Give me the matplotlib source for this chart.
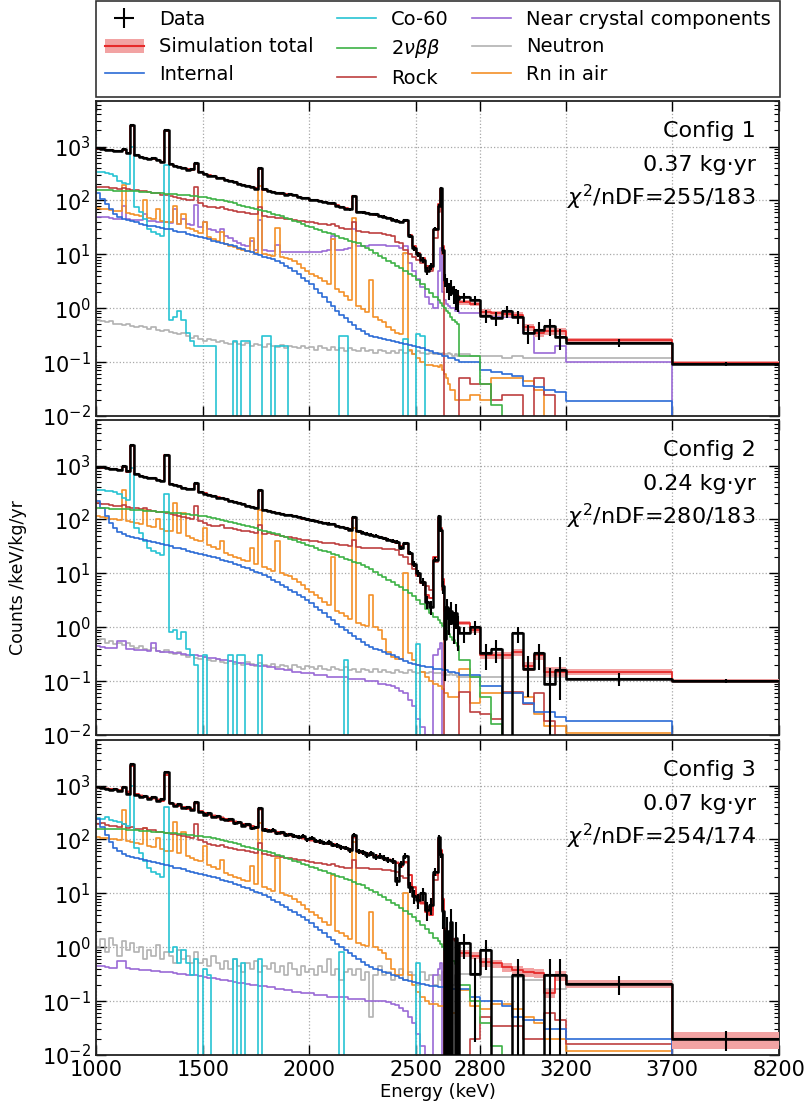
import numpy as np
import matplotlib
matplotlib.use("Agg")
import matplotlib.pyplot as plt
from matplotlib.patches import Patch
from matplotlib.lines import Line2D

# ---------------- binning (keV) ----------------
bin_edges = np.concatenate([np.arange(1000, 2600, 20), np.arange(2600, 2700, 10),
                            np.arange(2700, 3200, 50), [3200, 3700, 8200]]).astype(float)
x_ticks = [1000, 1500, 2000, 2500, 2800, 3200, 3700, 8200]
exposures = [0.37, 0.24, 0.07]
config_names = ["Config 1", "Config 2", "Config 3"]
exposure_labels = ["0.37 kg\u00b7yr", "0.24 kg\u00b7yr", "0.07 kg\u00b7yr"]
chi2_labels = [r"$\chi^2$/nDF=255/183", r"$\chi^2$/nDF=280/183", r"$\chi^2$/nDF=254/174"]

# ---------------- Config 1 ----------------
p1_data = [920, 900, 880, 860, 840, 820, 900, 760, 2500, 700,
           640, 620, 580, 600, 560, 520, 2000, 470, 440, 410,
           400, 370, 380, 490, 330, 310, 290, 280, 260, 260,
           240, 230, 220, 205, 195, 185, 175, 165, 400, 160,
           150, 145, 140, 135, 128, 130, 125, 118, 112, 110,
           104, 100, 96, 92, 90, 88, 80, 75, 70, 68,
           123, 62, 60, 58, 56, 55, 52, 50, 47, 44,
           42, 40, 43, 22, 13, 10, 8, 5, 6, 30,
           80, 170, 12, 3.4, 2.8, 2.2, 2.5, 1.9, 1.6, 1.5,
           1.6, 1.4, 0.72, 0.65, 0.87, 0.7, 0.35, 0.4, 0.46, 0.29,
           0.23, 0.094]
p1_total = [900, 890, 875, 860, 840, 825, 880, 770, 2400, 690,
            650, 625, 590, 590, 560, 525, 1950, 470, 440, 415,
            395, 375, 370, 480, 335, 310, 295, 280, 265, 262,
            242, 230, 218, 206, 196, 186, 178, 168, 390, 158,
            150, 145, 140, 134, 130, 128, 124, 118, 113, 109,
            104, 100, 96, 93, 90, 87, 81, 76, 71, 68,
            120, 62, 60, 58, 56, 54, 52, 50, 47, 44,
            42, 39, 42, 23, 14, 10.5, 8.5, 6, 5.5, 28,
            85, 165, 14, 3.0, 2.6, 2.3, 2.2, 2.0, 1.8, 1.7,
            1.3, 1.2, 0.85, 0.8, 0.78, 0.75, 0.45, 0.35, 0.37, 0.37,
            0.26, 0.097]
p1_total_relerr_low = 0.03
p1_total_relerr_high = [0.1, 0.1, 0.12, 0.12, 0.12, 0.12, 0.15, 0.15, 0.15, 0.15, 0.1, 0.06]
p1_internal = [135, 105, 85, 68, 57, 50, 46, 43, 41, 39,
               37, 35.5, 34, 33, 32, 31, 30, 29, 27.5, 26.5,
               25.5, 24, 23, 22, 21, 20, 19, 18, 17, 16.5,
               15.5, 14.8, 14, 13.2, 12.4, 11.7, 11, 10.3, 9.7, 9.1,
               8.6, 8.1, 7.5, 6.8, 6.1, 5.5, 4.9, 4.3, 3.7, 3.2,
               2.8, 2.3, 1.9, 1.6, 1.3, 1.08, 0.9, 0.76, 0.65, 0.56,
               0.48, 0.42, 0.37, 0.33, 0.31, 0.29, 0.28, 0.27, 0.26, 0.25,
               0.24, 0.23, 0.22, 0.21, 0.2, 0.19, 0.18, 0.17, 0.16, 0.15,
               0.14, 0.14, 0.13, 0.13, 0.13, 0.12, 0.12, 0.12, 0.11, 0.11,
               0.1, 0.1, 0.07, 0.065, 0.06, 0.055, 0.036, 0.034, 0.03, 0.028,
               0.019, 0]
p1_co60 = [340, 335, 320, 310, 290, 230, 210, 200, 1000, 75,
           62, 45, 30, 26, 24, 22, 460, 0.6, 0.7, 0.9,
           0.6, 0.35, 0.25, 0.2, 0.2, 0.2, 0.2, 0.2, 0, 0,
           0, 0, 0.25, 0, 0.25, 0.25, 0, 0, 0, 0.3,
           0.3, 0, 0.2, 0.2, 0.2, 0, 0, 0, 0, 0,
           0, 0, 0, 0, 0, 0, 0, 0.3, 0.3, 0,
           0, 0, 0, 0, 0, 0, 0, 0, 0, 0,
           0, 0, 0.27, 0, 0, 0.33, 0.3, 0, 0, 0,
           0, 0, 0, 0, 0, 0, 0, 0, 0, 0,
           0, 0, 0, 0, 0, 0, 0, 0, 0, 0,
           0, 0]
p1_2vbb = [155, 155, 154, 153, 152, 151, 150, 149, 148, 147,
           145, 144, 142, 140, 138, 136, 134, 132, 130, 128,
           126, 124, 122, 120, 118, 115, 112, 108, 104, 100,
           96, 92, 88, 84, 80, 76, 72, 69, 66, 63,
           60, 57, 54, 51, 48, 45, 42, 39, 37, 34,
           32, 30, 28, 26.5, 25, 23.5, 22, 20.5, 19, 18,
           17, 16, 14.5, 13, 12, 10.5, 9.5, 8.5, 7.5, 6.8,
           6.2, 5.6, 5.0, 4.4, 3.9, 3.3, 2.8, 2.3, 1.9, 1.6,
           1.4, 1.25, 1.1, 1.0, 0.9, 0.8, 0.7, 0.6, 0.55, 0.5,
           0.13, 0.13, 0.04, 0.016, 0, 0, 0, 0, 0, 0,
           0, 0]
p1_rock = [178, 176, 175, 172, 168, 165, 170, 160, 158, 155,
           150, 152, 145, 140, 135, 128, 125, 120, 118, 112,
           108, 104, 100, 177, 90, 80, 76, 74, 72, 75,
           68, 66, 64, 62, 60, 58, 57, 56, 75, 52,
           50, 49, 48, 47, 46, 45, 43, 42, 41, 40,
           39, 38, 37, 36, 35, 36, 33, 31, 30, 29,
           40, 27, 26, 26, 25, 25, 25, 24, 23, 22,
           17, 16, 12, 10, 9, 8, 7, 5.5, 5, 20,
           60, 77, 10, 0, 0, 0, 0, 0, 0, 0,
           0.05, 0.04, 0.04, 0.02, 0.025, 0.025, 0, 0.05, 0.025, 0,
           0, 0]
p1_near = [50, 50, 49, 47, 46, 46, 80, 45, 44, 44,
           43, 55, 42, 41, 40, 39, 40, 38, 70, 37,
           45, 36, 35, 84, 32, 40, 30, 28, 26, 30,
           22, 20, 18, 16, 15, 14, 18, 12, 44, 12,
           11.5, 11.5, 15, 11, 11, 11, 11, 11, 11, 11,
           11, 11, 11, 11.5, 12, 22, 12, 12, 12.5, 13,
           29, 14, 14, 14.5, 15, 15, 15, 15, 14.5, 14,
           14, 13, 14, 7, 5, 3.5, 2.5, 1.6, 1.2, 1.0,
           5, 13, 2, 1.4, 1.2, 1.1, 1.0, 1.0, 0.9, 0.9,
           0.8, 0.8, 0.75, 0.7, 0.7, 0.7, 0.35, 0.15, 0.15, 0.2,
           0.1, 0]
p1_neutron = [0.6, 0.58, 0.55, 0.57, 0.5, 0.52, 0.48, 0.5, 0.47, 0.45,
              0.47, 0.44, 0.42, 0.45, 0.4, 0.38, 0.4, 0.36, 0.35, 0.33,
              0.35, 0.3, 0.28, 0.3, 0.27, 0.25, 0.27, 0.26, 0.24, 0.25,
              0.23, 0.22, 0.24, 0.22, 0.21, 0.23, 0.2, 0.22, 0.21, 0.19,
              0.22, 0.2, 0.19, 0.21, 0.18, 0.2, 0.19, 0.18, 0.2, 0.18,
              0.19, 0.17, 0.2, 0.18, 0.17, 0.19, 0.17, 0.18, 0.16, 0.18,
              0.17, 0.16, 0.18, 0.16, 0.17, 0.15, 0.17, 0.16, 0.15, 0.16,
              0.15, 0.17, 0.15, 0.16, 0.14, 0.16, 0.15, 0.14, 0.15, 0.14,
              0.15, 0.14, 0.15, 0.14, 0.14, 0.15, 0.14, 0.13, 0.14, 0.13,
              0.14, 0.13, 0.13, 0.13, 0.12, 0.13, 0.12, 0.12, 0.12, 0.12,
              0.12, 0.093]
p1_rn = [72, 70, 68, 66, 64, 63, 190, 58, 56, 54,
         52, 104, 47, 45, 70, 42, 40, 39, 80, 36,
         55, 31, 29, 27, 25, 40, 21, 19, 17.5, 26,
         15.5, 14.5, 13.5, 12.8, 12, 11.5, 20, 10.5, 187, 10,
         9.6, 9.2, 31, 8.8, 8.6, 8.2, 7.5, 6.5, 5.6, 4.9,
         4.4, 4.0, 3.6, 3.2, 2.8, 19, 2.3, 2.0, 1.7, 1.4,
         47, 1.1, 0.95, 0.85, 3.4, 0.7, 0.6, 0.55, 0.45, 0.4,
         0.35, 0.33, 10.6, 0.17, 0.14, 0.12, 0.1, 0.09, 0.09, 0.085,
         0.08, 0.09, 0.07, 0.06, 0.05, 0.04, 0.03, 0.03, 0.02, 0.02,
         0.02, 0.025, 0.02, 0.05, 0.05, 0.05, 0.045, 0.03, 0, 0,
         0, 0]

# ---------------- Config 2 ----------------
p2_data = [950, 930, 900, 870, 850, 830, 960, 780, 2400, 700,
           650, 610, 590, 580, 550, 510, 1600, 460, 430, 420,
           390, 360, 370, 470, 320, 300, 290, 270, 255, 250,
           235, 220, 212, 200, 190, 180, 170, 160, 350, 150,
           145, 138, 132, 128, 122, 120, 115, 110, 105, 100,
           96, 94, 90, 86, 84, 82, 76, 72, 68, 65,
           110, 60, 57, 54, 52, 50, 47, 45, 42, 40,
           38, 30, 36, 24, 15, 10, 7, 3, 2.4, 18,
           114, 64, 5.7, 0.6, 2.4, 1.5, 2.0, 1.2, 1.8, 1.0,
           0.77, 1.0, 0.33, 0.4, 0, 0.77, 0.17, 0.33, 0.09, 0.16,
           0.11, 0.1]
p2_total = [930, 910, 890, 865, 845, 825, 930, 770, 2300, 690,
            645, 615, 590, 575, 550, 515, 1550, 460, 435, 415,
            390, 365, 365, 460, 325, 305, 288, 272, 258, 252,
            236, 222, 212, 200, 190, 181, 172, 162, 340, 152,
            145, 139, 133, 127, 122, 119, 114, 109, 104, 100,
            96, 93, 89, 86, 83, 81, 76, 72, 68, 65,
            105, 60, 57, 54, 52, 50, 47, 45, 42, 40,
            37, 32, 35, 23, 14, 9.5, 6.5, 4, 3.5, 20,
            105, 70, 8, 2.0, 1.8, 1.6, 1.5, 1.4, 1.3, 1.2,
            1.2, 0.9, 0.3, 0.3, 0.3, 0.35, 0.19, 0.3, 0.15, 0.15,
            0.15, 0.1]
p2_total_relerr_low = 0.04
p2_total_relerr_high = [0.1, 0.12, 0.15, 0.15, 0.15, 0.15, 0.18, 0.18, 0.2, 0.2, 0.12, 0.08]
p2_internal = [220, 160, 115, 85, 68, 58, 53, 50, 47, 45,
               43, 41, 39, 37.5, 36, 34.5, 33, 31.5, 30, 29,
               28, 26.5, 25, 24, 23, 22, 21, 20, 19, 18,
               17, 16, 15, 14, 13.2, 12.4, 11.6, 10.8, 10, 9.2,
               8.4, 7.6, 6.9, 6.2, 5.6, 5.0, 4.5, 4.0, 3.6, 3.2,
               2.8, 2.4, 2.1, 1.8, 1.55, 1.35, 1.15, 1.0, 0.88, 0.78,
               0.68, 0.6, 0.53, 0.47, 0.43, 0.4, 0.37, 0.35, 0.32, 0.3,
               0.28, 0.26, 0.24, 0.22, 0.21, 0.2, 0.19, 0.18, 0.18, 0.17,
               0.17, 0.17, 0.16, 0.16, 0.16, 0.15, 0.15, 0.15, 0.14, 0.14,
               0.13, 0.13, 0.08, 0.08, 0.06, 0.06, 0.04, 0.027, 0.027, 0.022,
               0.018, 0]
p2_co60 = [350, 345, 340, 330, 320, 300, 250, 230, 900, 70,
           55, 40, 30, 26, 24, 22, 300, 0.8, 0.9, 0.6,
           0.8, 0.4, 0.3, 0.2, 0, 0.3, 0, 0, 0, 0,
           0, 0.3, 0, 0.3, 0.3, 0, 0, 0, 0.3, 0,
           0, 0, 0, 0, 0, 0, 0, 0, 0, 0,
           0, 0, 0, 0, 0, 0, 0, 0, 0.25, 0,
           0, 0, 0, 0, 0, 0, 0, 0, 0, 0,
           0, 0, 0, 0, 0, 0.48, 0, 0, 0, 0,
           0, 0, 0, 0, 0, 0, 0, 0, 0, 0,
           0, 0, 0, 0, 0, 0, 0, 0, 0, 0,
           0, 0]
p2_2vbb = [162, 161, 160, 159, 158, 157, 156, 154, 152, 150,
           148, 146, 144, 142, 140, 138, 136, 134, 132, 130,
           127, 125, 122, 120, 117, 114, 111, 107, 103, 99,
           95, 91, 87, 83, 79, 75, 71, 68, 65, 62,
           59, 56, 53, 50, 47, 44, 41, 38.5, 36, 33.5,
           31.5, 29.5, 27.5, 26, 24.5, 23, 21.5, 20, 18.7, 17.5,
           16.5, 15.5, 14.2, 13, 11.8, 10.5, 9.5, 8.5, 7.6, 6.8,
           6.1, 5.5, 4.9, 4.3, 3.8, 3.2, 2.7, 2.2, 1.85, 1.55,
           1.35, 1.2, 1.05, 0.95, 0.85, 0.75, 0.65, 0.57, 0.5, 0.45,
           0.25, 0.12, 0.05, 0.016, 0, 0, 0, 0, 0, 0,
           0, 0]
p2_rock = [200, 195, 190, 185, 180, 175, 185, 170, 165, 160,
           155, 160, 150, 145, 140, 135, 130, 125, 122, 118,
           112, 108, 104, 180, 95, 85, 80, 77, 74, 78,
           70, 68, 66, 64, 62, 60, 58, 56, 80, 53,
           55, 53, 52, 50, 48, 47, 45, 44, 42, 41,
           40, 39, 38, 37, 36, 37, 35, 34, 33, 32,
           42, 31, 30, 30, 29, 29, 29, 28, 28, 28,
           27, 22, 20, 15, 12, 9, 7, 5.7, 5, 16,
           90, 60, 5, 0, 0, 0, 0, 0, 0, 0,
           0.064, 0.027, 0.025, 0.02, 0.064, 0.064, 0.038, 0.06, 0.018, 0,
           0, 0]
p2_near = [0.44, 0.43, 0.42, 0.42, 0.41, 0.55, 0.55, 0.4, 0.4, 0.38,
           0.38, 0.37, 0.36, 0.5, 0.36, 0.35, 0.35, 0.34, 0.33, 0.33,
           0.32, 0.31, 0.3, 0.3, 0.29, 0.28, 0.27, 0.27, 0.26, 0.25,
           0.25, 0.24, 0.23, 0.22, 0.22, 0.21, 0.2, 0.2, 0.19, 0.19,
           0.18, 0.18, 0.17, 0.17, 0.16, 0.16, 0.15, 0.15, 0.14, 0.14,
           0.14, 0.13, 0.13, 0.13, 0.12, 0.12, 0.12, 0.12, 0.12, 0.11,
           0.11, 0.11, 0.11, 0.1, 0.1, 0.1, 0.09, 0.09, 0.085, 0.08,
           0.075, 0.065, 0.06, 0.045, 0.035, 0.02, 0.014, 0.01, 0.005, 0.3,
           0.4, 0.5, 0, 0, 0, 0, 0, 0, 0, 0,
           0, 0, 0, 0, 0, 0, 0, 0, 0, 0,
           0, 0]
p2_neutron = [0.55, 0.6, 0.5, 0.55, 0.48, 0.5, 0.46, 0.5, 0.45, 0.42,
              0.45, 0.4, 0.38, 0.42, 0.36, 0.35, 0.37, 0.33, 0.32, 0.34,
              0.3, 0.28, 0.3, 0.27, 0.26, 0.28, 0.25, 0.24, 0.26, 0.23,
              0.22, 0.24, 0.21, 0.22, 0.2, 0.23, 0.21, 0.19, 0.22, 0.2,
              0.19, 0.21, 0.18, 0.2, 0.19, 0.17, 0.2, 0.18, 0.17, 0.19,
              0.18, 0.17, 0.19, 0.17, 0.16, 0.18, 0.17, 0.16, 0.18, 0.16,
              0.17, 0.15, 0.17, 0.16, 0.15, 0.17, 0.15, 0.16, 0.15, 0.14,
              0.16, 0.15, 0.14, 0.16, 0.15, 0.14, 0.15, 0.14, 0.15, 0.14,
              0.14, 0.14, 0.13, 0.14, 0.13, 0.13, 0.14, 0.13, 0.13, 0.12,
              0.12, 0.12, 0.12, 0.12, 0.12, 0.12, 0.12, 0.12, 0.12, 0.12,
              0.11, 0.095]
p2_rn = [115, 110, 108, 104, 100, 98, 350, 92, 88, 85,
         82, 150, 76, 72, 100, 66, 62, 60, 200, 56,
         130, 50, 46, 42, 40, 70, 34, 31, 28, 40,
         24, 22, 20, 19, 18, 17, 30, 15, 150, 13,
         12, 11, 40, 10, 9.5, 9, 8, 7, 6, 5.2,
         4.6, 4.0, 3.5, 3.0, 2.6, 20, 2.0, 1.8, 1.6, 1.4,
         70, 1.2, 1.1, 1.05, 4, 1.0, 0.9, 0.6, 0.35, 0.28,
         0.26, 0.26, 10, 0.33, 0.25, 0.2, 0.15, 0.12, 0.1, 0.09,
         0.08, 0.08, 0.07, 0.06, 0.06, 0.05, 0.05, 0.05, 0.05, 0.05,
         0.17, 0.04, 0.06, 0.06, 0.06, 0.06, 0.05, 0.025, 0.015, 0.015,
         0.011, 0]

# ---------------- Config 3 ----------------
p3_data = [950, 900, 870, 820, 880, 800, 950, 700, 2500, 680,
           620, 650, 560, 600, 520, 560, 1800, 480, 420, 450,
           380, 400, 350, 500, 320, 290, 310, 260, 270, 240,
           230, 240, 200, 210, 180, 190, 160, 170, 380, 150,
           145, 150, 130, 135, 120, 125, 115, 110, 115, 100,
           105, 95, 92, 85, 88, 80, 78, 72, 70, 63,
           120, 60, 58, 52, 55, 48, 50, 45, 42, 40,
           17, 35, 50, 13, 9, 7.4, 10, 5, 6, 25,
           110, 54, 4.8, 0, 2.0, 0, 3.0, 0, 1.5, 0,
           1.2, 0.32, 0.88, 0, 0, 0.3, 0, 0, 0.3, 0.3,
           0.21, 0.02]
p3_total = [920, 900, 880, 860, 845, 825, 930, 770, 2300, 690,
            645, 615, 590, 575, 550, 520, 1600, 465, 440, 420,
            395, 370, 365, 470, 330, 305, 290, 274, 260, 253,
            238, 224, 214, 202, 192, 183, 174, 164, 360, 154,
            147, 141, 135, 129, 124, 120, 115, 110, 105, 101,
            97, 93, 89, 86, 83, 81, 76, 72, 68, 65,
            110, 60, 57, 54, 52, 50, 47, 45, 42, 40,
            37, 32, 38, 22, 13, 9, 6.5, 4.5, 4, 22,
            100, 65, 8, 2.2, 1.9, 1.7, 1.6, 1.4, 1.3, 1.2,
            0.77, 0.7, 0.53, 0.5, 0.43, 0.38, 0.35, 0.33, 0.14, 0.3,
            0.21, 0.02]
p3_total_relerr_low = 0.06
p3_total_relerr_high = [0.15, 0.15, 0.18, 0.18, 0.18, 0.18, 0.2, 0.2, 0.2, 0.2, 0.17, 0.35]
p3_internal = [240, 170, 120, 88, 70, 60, 54, 50, 47, 45,
               43, 41, 39, 37.5, 36, 34.5, 33, 31.5, 30, 29,
               28, 26.5, 25, 24, 23, 22, 21, 20, 19, 18,
               17, 16, 15, 14, 13.2, 12.4, 11.6, 10.8, 10, 9.2,
               8.4, 7.6, 6.9, 6.2, 5.6, 5.0, 4.5, 4.0, 3.6, 3.2,
               2.8, 2.4, 2.1, 1.8, 1.55, 1.35, 1.15, 1.0, 0.88, 0.78,
               0.68, 0.6, 0.53, 0.47, 0.43, 0.4, 0.37, 0.35, 0.33, 0.31,
               0.29, 0.27, 0.25, 0.24, 0.23, 0.22, 0.21, 0.2, 0.19, 0.19,
               0.18, 0.18, 0.18, 0.18, 0.18, 0.17, 0.17, 0.17, 0.17, 0.17,
               0.17, 0.12, 0.1, 0.1, 0.08, 0.05, 0.045, 0.045, 0.03, 0.03,
               0.02, 0]
p3_co60 = [250, 240, 260, 230, 220, 210, 190, 180, 1000, 70,
           55, 40, 30, 25, 23, 20, 400, 0.8, 1.0, 0.5,
           0.9, 0.5, 0.3, 0.6, 0, 0.4, 0.3, 0, 0, 0,
           0, 0, 0.6, 0, 0.5, 0, 0, 0, 0.6, 0,
           0, 0, 0, 0, 0, 0, 0, 0, 0, 0,
           0, 0, 0, 0, 0, 0, 0, 0.8, 0, 0,
           0, 0, 0, 0, 0, 0, 0, 0, 0, 0,
           0, 0, 0, 0, 0, 0.5, 0, 0, 0, 0,
           0, 0, 0, 0, 0, 0, 0, 0, 0, 0,
           0, 0, 0, 0, 0, 0, 0, 0, 0, 0,
           0, 0]
p3_2vbb = [158, 158, 157, 156, 155, 154, 153, 152, 150, 148,
           146, 144, 142, 140, 138, 136, 134, 132, 130, 128,
           125, 123, 120, 118, 115, 112, 109, 105, 101, 97,
           93, 89, 85, 81, 77, 73, 70, 67, 64, 61,
           58, 55, 52, 49, 46, 43, 40, 38, 35.5, 33,
           31, 29, 27, 25.5, 24, 22.5, 21, 19.7, 18.5, 17.3,
           16.2, 15.2, 14, 12.8, 11.6, 10.4, 9.4, 8.4, 7.5, 6.7,
           6.0, 5.4, 4.8, 4.2, 3.7, 3.1, 2.6, 2.2, 1.8, 1.5,
           1.3, 1.15, 1.0, 0.9, 0.8, 0.72, 0.63, 0.55, 0.48, 0.43,
           0.2, 0.1, 0.04, 0.015, 0, 0, 0, 0, 0, 0,
           0, 0]
p3_rock = [190, 200, 185, 180, 178, 170, 190, 165, 170, 158,
           155, 165, 150, 148, 140, 138, 130, 128, 125, 120,
           115, 110, 105, 190, 96, 88, 82, 80, 76, 80,
           72, 70, 67, 65, 63, 61, 59, 57, 85, 54,
           52, 50, 49, 47, 46, 45, 43, 42, 41, 39,
           38, 37, 36, 35, 34, 35, 32, 31, 30, 29,
           42, 30, 29, 29, 28, 28, 28, 27, 27, 26,
           25, 21, 19, 14, 11, 8.5, 7, 5.5, 5, 18,
           85, 60, 5, 0, 0, 0, 0, 0, 0, 0,
           0, 0.02, 0.05, 0.035, 0.035, 0.035, 0.02, 0.02, 0.06, 0.045,
           0.016, 0]
p3_near = [0.45, 0.44, 0.43, 0.42, 0.42, 0.55, 0.55, 0.41, 0.4, 0.39,
           0.38, 0.37, 0.37, 0.36, 0.36, 0.35, 0.34, 0.34, 0.33, 0.32,
           0.32, 0.31, 0.3, 0.3, 0.29, 0.28, 0.27, 0.27, 0.26, 0.25,
           0.25, 0.24, 0.23, 0.22, 0.22, 0.21, 0.2, 0.2, 0.19, 0.19,
           0.18, 0.18, 0.17, 0.17, 0.16, 0.16, 0.15, 0.15, 0.14, 0.14,
           0.14, 0.13, 0.13, 0.13, 0.12, 0.12, 0.12, 0.12, 0.12, 0.11,
           0.11, 0.11, 0.11, 0.1, 0.1, 0.1, 0.1, 0.1, 0.095, 0.09,
           0.085, 0.075, 0.065, 0.05, 0.04, 0.025, 0.015, 0.01, 0.005, 0.3,
           0.4, 0.5, 0, 0, 0, 0, 0, 0, 0, 0,
           0, 0, 0, 0, 0, 0, 0, 0, 0, 0,
           0, 0]
p3_neutron = [1.0, 1.4, 0.8, 1.5, 1.1, 0.7, 1.3, 0.9, 1.2, 0.8,
              1.0, 0.6, 0.9, 0.7, 1.1, 0.6, 0.8, 0.7, 0.5, 0.9,
              0.6, 0.7, 0.5, 0.8, 0.5, 0.6, 0.45, 0.7, 0.5, 0.4,
              0.55, 0.4, 0.6, 0.45, 0.35, 0.5, 0.4, 0.55, 0.35, 0.45,
              0.4, 0.5, 0.35, 0.45, 0.3, 0.5, 0.4, 0.3, 0.45, 0.35,
              0.4, 0.3, 0.45, 0.35, 0.6, 0.3, 0.4, 0.25, 0.35, 0.4,
              0.3, 0.4, 0.25, 0.35, 0.05, 0.3, 0.45, 0.3, 0.35, 0.25,
              0.3, 0.4, 0.25, 0.35, 0.3, 0.2, 0.35, 0.25, 0.3, 0.2,
              0.3, 0.25, 0.35, 0.2, 0.3, 0.25, 0.3, 0.2, 0.3, 0.25,
              0.32, 0.3, 0.28, 0.28, 0.28, 0.28, 0.25, 0.25, 0.17, 0.17,
              0.2, 0.018]
p3_rn = [110, 108, 105, 102, 100, 98, 345, 92, 88, 85,
         82, 160, 76, 72, 105, 66, 62, 60, 210, 56,
         140, 50, 46, 42, 40, 75, 34, 31, 28, 42,
         24, 22, 20, 19, 18, 17, 32, 15, 200, 13,
         12, 11, 45, 10, 9.5, 9, 8, 7, 6, 5.2,
         4.6, 4.0, 3.5, 3.0, 2.6, 22, 2.0, 1.8, 1.6, 1.4,
         90, 1.2, 1.1, 1.05, 4.5, 1.0, 0.9, 0.77, 0.6, 0.4,
         0.3, 0.3, 10, 0.3, 0.2, 0.15, 0.12, 0.1, 0.09, 0.09,
         0.08, 0.08, 0.08, 0.07, 0.07, 0.07, 0.06, 0.06, 0.06, 0.06,
         0.16, 0.08, 0.07, 0.09, 0.09, 0.07, 0.05, 0.04, 0.02, 0.02,
         0.012, 0]

# ---------------- style ----------------
colors = {
    "internal": "#2b6bd6", "co60": "#27c3d3", "2vbb": "#3db245", "rock": "#bd3f3f",
    "near": "#9a6ad6", "neutron": "#b2b2b2", "rn": "#f39028",
    "total": "#e62a2a", "band": "#f2a3a3", "data": "black",
}
labels = {
    "internal": "Internal", "co60": "Co-60", "2vbb": r"$2\nu\beta\beta$", "rock": "Rock",
    "near": "Near crystal components", "neutron": "Neutron", "rn": "Rn in air",
}
panels = [
    dict(data=p1_data, total=p1_total, rlo=p1_total_relerr_low, rhi=p1_total_relerr_high,
         comps=dict(neutron=p1_neutron, near=p1_near, rn=p1_rn, rock=p1_rock, co60=p1_co60,
                    internal=p1_internal, **{"2vbb": p1_2vbb})),
    dict(data=p2_data, total=p2_total, rlo=p2_total_relerr_low, rhi=p2_total_relerr_high,
         comps=dict(neutron=p2_neutron, near=p2_near, rn=p2_rn, rock=p2_rock, co60=p2_co60,
                    internal=p2_internal, **{"2vbb": p2_2vbb})),
    dict(data=p3_data, total=p3_total, rlo=p3_total_relerr_low, rhi=p3_total_relerr_high,
         comps=dict(neutron=p3_neutron, near=p3_near, rn=p3_rn, rock=p3_rock, co60=p3_co60,
                    internal=p3_internal, **{"2vbb": p3_2vbb})),
]


def fwd(x):
    x = np.asarray(x, dtype=float)
    return np.where(x <= 3700, x, 3700 + (x - 3700) / 9.0)


def inv(u):
    u = np.asarray(u, dtype=float)
    return np.where(u <= 3700, u, 3700 + (u - 3700) * 9.0)


FLOOR = 1e-5
lo_e, hi_e = bin_edges[:-1], bin_edges[1:]
widths = hi_e - lo_e
centers = inv(0.5 * (fwd(lo_e) + fwd(hi_e)))


def ext(v):
    v = np.asarray(v, dtype=float)
    v = np.where(v > 0, v, FLOOR)
    return np.append(v, v[-1])


fig = plt.figure(figsize=(8.08, 11.08), dpi=100)
W, H = 808.0, 1108.0
ax_left, ax_w = 96 / W, 683 / W
tops = [101, 420, 740]
ph = 315

handles = {}
for i, p in enumerate(panels):
    ax = fig.add_axes([ax_left, 1 - (tops[i] + ph) / H, ax_w, ph / H])
    ax.set_yscale("log")
    ax.set_xscale("function", functions=(fwd, inv))
    for key in ["neutron", "near", "rn", "rock", "co60", "internal", "2vbb"]:
        ln, = ax.step(bin_edges, ext(p["comps"][key]), where="post", color=colors[key],
                      lw=1.2, zorder=2)
        handles[key] = ln
    tot = np.asarray(p["total"], dtype=float)
    rel = np.array([p["rlo"]] * (len(tot) - len(p["rhi"])) + list(p["rhi"]))
    ax.fill_between(bin_edges, ext(tot * (1 - rel)), ext(tot * (1 + rel)), step="post",
                    color=colors["band"], lw=0, zorder=3)
    ax.step(bin_edges, ext(tot), where="post", color=colors["total"], lw=1.3, zorder=4)
    d = np.asarray(p["data"], dtype=float)
    ax.step(bin_edges, ext(d), where="post", color="black", lw=1.8, zorder=5)
    counts = d * widths * exposures[i]
    err = np.sqrt(np.clip(counts, 0, None)) / (widths * exposures[i])
    m = d > 0
    xl = centers - lo_e
    xh = hi_e - centers
    eb = ax.errorbar(centers[m], d[m], yerr=err[m], xerr=[xl[m], xh[m]], fmt="none",
                     ecolor="black", elinewidth=1.5, capsize=0, zorder=6)
    if i == 0:
        handles["data"] = eb
    ax.set_xlim(1000, 8200)
    ax.set_ylim(1e-2, 7000)
    ax.set_xticks(x_ticks)
    ax.xaxis.set_minor_locator(matplotlib.ticker.NullLocator())
    ax.grid(True, which="major", ls=":", color="#a8a8a8", lw=0.9)
    ax.tick_params(which="both", direction="in", top=True, right=True, labelsize=15)
    ax.tick_params(which="major", length=7, width=1.0)
    ax.tick_params(which="minor", length=3.5, width=0.8)
    for s in ax.spines.values():
        s.set_linewidth(1.3)
        s.set_color("#222222")
    if i < 2:
        ax.tick_params(labelbottom=False)
    else:
        ax.set_xticklabels([str(t) for t in x_ticks])
        ax.set_xlabel("Energy (keV)", fontsize=13, labelpad=2)
    ax.text(0.966, 0.905, config_names[i], transform=ax.transAxes, ha="right", va="center",
            fontsize=16)
    ax.text(0.966, 0.797, exposure_labels[i], transform=ax.transAxes, ha="right", va="center",
            fontsize=16)
    ax.text(0.966, 0.695, chi2_labels[i], transform=ax.transAxes, ha="right", va="center",
            fontsize=16)

fig.text(18 / W, 1 - 578 / H, "Counts /keV/kg/yr", rotation=90, ha="center", va="center",
         fontsize=12.5)

sim_handle = (Patch(facecolor=colors["band"], edgecolor="none"),
              Line2D([], [], color=colors["total"], lw=1.5))
leg_handles = [handles["data"], sim_handle, handles["internal"], handles["co60"], handles["2vbb"],
               handles["rock"], handles["near"], handles["neutron"], handles["rn"]]
leg_labels = ["Data", "Simulation total", labels["internal"], labels["co60"], labels["2vbb"],
              labels["rock"], labels["near"], labels["neutron"], labels["rn"]]
leg = fig.legend(leg_handles, leg_labels, ncol=3, loc="lower left",
                 bbox_to_anchor=(96 / W, 1 - 97 / H, 684 / W, 92 / H), mode="expand",
                 fontsize=14, frameon=True, fancybox=False, borderaxespad=0,
                 labelspacing=0.45, handlelength=2.0, handletextpad=0.8, columnspacing=1.0,
                 borderpad=0.45)
leg.get_frame().set_edgecolor("black")
leg.get_frame().set_linewidth(1.2)

fig.savefig("out.png", dpi=100)
